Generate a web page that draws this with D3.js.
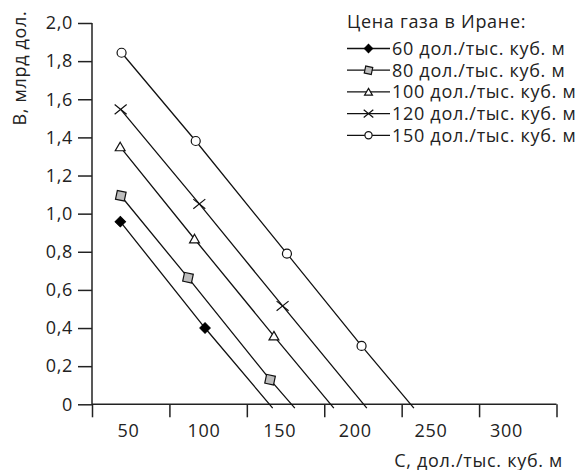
<!DOCTYPE html>
<html><head><meta charset="utf-8">
<script src="https://cdn.jsdelivr.net/npm/d3@7"></script>
<style>
body{margin:0;background:#fff}
svg text{font-family:"Open Sans", Lato, sans-serif;font-weight:400;fill:#222;letter-spacing:0.7px}
</style>
</head><body>
<svg id="c" width="581" height="470"></svg>
<script>
// ---- data ----
const legendTitle = "Цена газа в Иране:";
const seriesNames = ["60 дол./тыс. куб. м","80 дол./тыс. куб. м","100 дол./тыс. куб. м","120 дол./тыс. куб. м","150 дол./тыс. куб. м"];
const seriesMarkers = ["diamond","square","triangle","cross","circle"];
const seriesX = [
  [43.3, 98.0],
  [43.6, 87.0, 140.0],
  [43.2, 91.2, 142.5],
  [43.5, 94.3, 148.1],
  [44.1, 92.0, 150.9, 199.1]
];
const seriesY = [
  [0.958, 0.400],
  [1.094, 0.664, 0.129],
  [1.350, 0.867, 0.358],
  [1.547, 1.051, 0.516],
  [1.844, 1.381, 0.790, 0.306]
];
const lineEndX = [141.7, 156.0, 181.2, 202.5, 232.9];
const lineEndY = -0.02;
const yTicks = [0,0.2,0.4,0.6,0.8,1.0,1.2,1.4,1.6,1.8,2.0];
const xTicks = [25,75,125,175,225,275,325];
const xLabels = [50,100,150,200,250,300];
const xTitle = "С, дол./тыс. куб. м";
const yTitle = "В, млрд дол.";

// ---- layout ----
const FS = "18px";
const svg = d3.select("#c");
const x = d3.scaleLinear().domain([25,325]).range([92,556.5]);
const xLab = d3.scaleLinear().domain([50,300]).range([128,506]);
const y = d3.scaleLinear().domain([0,2]).range([404.3,23]);
const fmt = v => v===0 ? "0" : d3.format(".1f")(v).replace(".", ",");

// y axis
const ya = svg.append("g").attr("transform","translate(92,0)")
  .call(d3.axisLeft(y).tickValues(yTicks).tickFormat(fmt).tickSize(14).tickPadding(5));
ya.select(".domain").attr("stroke","#222").attr("stroke-width",1.5).attr("d","M0,"+y(2)+"V"+y(0));
ya.selectAll(".tick line").attr("stroke","#222").attr("stroke-width",1.5);
ya.selectAll("text").style("font-size",FS).attr("fill","#222");

// x axis ticks
const xa = svg.append("g").attr("transform","translate(0,404.3)")
  .call(d3.axisBottom(x).tickValues(xTicks).tickFormat("").tickSize(13));
xa.select(".domain").attr("stroke","#222").attr("stroke-width",1.5).attr("d","M"+x(25)+",0H"+x(325));
xa.selectAll(".tick line").attr("stroke","#222").attr("stroke-width",1.5);
// x labels
const xl = svg.append("g").attr("transform","translate(0,404.3)")
  .call(d3.axisBottom(xLab).tickValues(xLabels).tickSize(0).tickPadding(20));
xl.select(".domain").remove();
xl.selectAll("text").style("font-size",FS).attr("fill","#222");
svg.selectAll("g").attr("font-family",null).attr("font-size",null);

// titles
svg.append("text").attr("x",563).attr("y",466.5).attr("text-anchor","end")
  .style("font-size",FS).text(xTitle);
svg.append("text").attr("transform","translate(25.5,68) rotate(-90)").attr("text-anchor","middle")
  .style("font-size",FS).text(yTitle);

// marker drawer
function marker(g, type, s){
  if(type==="circle"){
    g.append("circle").attr("r",s*0.45).attr("fill","#fff").attr("stroke","#111").attr("stroke-width",1.2);
  } else if(type==="diamond"){
    g.append("path").attr("d",d3.symbol(d3.symbolSquare, s*s*0.55)()).attr("transform","rotate(45)")
      .attr("fill","#000").attr("stroke","#000").attr("stroke-width",1);
  } else if(type==="square"){
    g.append("path").attr("d",d3.symbol(d3.symbolSquare, s*s*0.8)()).attr("transform","rotate(12)")
      .attr("fill","#bdbdbd").attr("stroke","#111").attr("stroke-width",1.2);
  } else if(type==="triangle"){
    g.append("path").attr("d",d3.symbol(d3.symbolTriangle, s*s*0.42)()).attr("transform","translate(0,1)")
      .attr("fill","#fff").attr("stroke","#111").attr("stroke-width",1.2);
  } else if(type==="cross"){
    const h=s*0.6;
    g.append("path").attr("d",`M${-h},${-h*0.8}L${h},${h*0.8}M${-h},${h*0.8}L${h},${-h*0.8}`)
      .attr("fill","none").attr("stroke","#111").attr("stroke-width",1.2);
  }
}

// series
const line = d3.line().x(d=>x(d[0])).y(d=>y(d[1]));
seriesNames.forEach((name,i)=>{
  const pts = seriesX[i].map((v,j)=>[v, seriesY[i][j]]);
  const full = pts.concat([[lineEndX[i], lineEndY]]);
  svg.append("path").attr("d",line(full)).attr("fill","none").attr("stroke","#111").attr("stroke-width",1.3);
  pts.forEach(p=>{
    const g = svg.append("g").attr("transform",`translate(${x(p[0])},${y(p[1])})`);
    marker(g, seriesMarkers[i], 10);
  });
});

// legend
const lg = svg.append("g");
lg.append("text").attr("x",347).attr("y",27.5).style("font-size",FS).text(legendTitle);
seriesNames.forEach((name,i)=>{
  const by = 55 + i*21.7;
  const cy = by - 6.5;
  lg.append("line").attr("x1",347).attr("x2",390).attr("y1",cy).attr("y2",cy).attr("stroke","#111").attr("stroke-width",1.3);
  const g = lg.append("g").attr("transform",`translate(368.5,${cy})`);
  marker(g, seriesMarkers[i], 8);
  lg.append("text").attr("x",392).attr("y",by).style("font-size",FS).text(name);
});
</script>
</body></html>
